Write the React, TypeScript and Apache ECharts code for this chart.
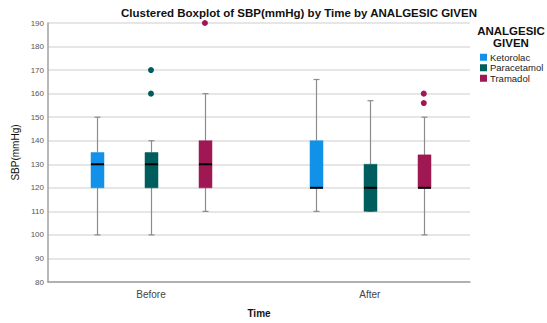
import React, { useEffect, useRef } from "react";
import * as echarts from "echarts";

const categories = ["Before", "After"];
const groups = ["Ketorolac", "Paracetamol", "Tramadol"];
const colors = ["#1192e8", "#005d5d", "#9f1853"];
// [min, q1, median, q3, max] per time category
const ketorolacBox = [
  [100, 120, 130, 135, 150],
  [110, 120, 120, 140, 166],
];
const paracetamolBox = [
  [100, 120, 130, 135, 140],
  [110, 110, 120, 130, 157],
];
const tramadolBox = [
  [110, 120, 130, 140, 160],
  [100, 120, 120, 134, 150],
];
// outliers: [time index, value]
const ketorolacOut: number[][] = [];
const paracetamolOut = [
  [0, 170],
  [0, 160],
];
const tramadolOut = [
  [0, 190],
  [1, 160],
  [1, 156],
];
const yMin = 80;
const yMax = 190;
const yStep = 10;

const boxes = [ketorolacBox, paracetamolBox, tramadolBox];
const outs = [ketorolacOut, paracetamolOut, tramadolOut];

// layout of the horizontal (hidden numeric) axis
const CAT_POS = [8, 25]; // cluster centres in x-axis units
const X_MAX = 32.78;
const GROUP_OFFSET = 4.19; // spacing between boxes in axis units
const FONT = "'Liberation Sans', Arial, sans-serif";

export default function App() {
  const ref = useRef<HTMLDivElement>(null);
  useEffect(() => {
    if (!ref.current) return;
    const chart = echarts.init(ref.current, undefined, { renderer: "svg" });
    const series: any[] = [];
    groups.forEach((g, s) => {
      const off = (s - 1) * GROUP_OFFSET;
      series.push({
        name: g,
        type: "custom",
        itemStyle: { color: colors[s] },
        encode: { x: 0, y: [1, 2, 3, 4, 5] },
        data: boxes[s].map((b, i) => [CAT_POS[i] + off, ...b]),
        renderItem: (params: any, api: any) => {
          const x = api.value(0);
          const lo = api.coord([x, api.value(1)]);
          const q1 = api.coord([x, api.value(2)]);
          const md = api.coord([x, api.value(3)]);
          const q3 = api.coord([x, api.value(4)]);
          const hi = api.coord([x, api.value(5)]);
          const cx = Math.round(lo[0]) + 0.5;
          const hw = 6.5;
          const cap = 3;
          const wStyle = { stroke: "#8c8c8c", lineWidth: 1.2 };
          return {
            type: "group",
            children: [
              { type: "line", shape: { x1: cx, y1: hi[1], x2: cx, y2: q3[1] }, style: wStyle },
              { type: "line", shape: { x1: cx, y1: q1[1], x2: cx, y2: lo[1] }, style: wStyle },
              { type: "line", shape: { x1: cx - cap, y1: hi[1], x2: cx + cap, y2: hi[1] }, style: wStyle },
              { type: "line", shape: { x1: cx - cap, y1: lo[1], x2: cx + cap, y2: lo[1] }, style: wStyle },
              {
                type: "rect",
                shape: { x: cx - hw, y: q3[1], width: hw * 2, height: q1[1] - q3[1] },
                style: { fill: colors[s], stroke: colors[s], lineWidth: 0.5 },
              },
              {
                type: "line",
                shape: { x1: cx - hw, y1: md[1], x2: cx + hw, y2: md[1] },
                style: { stroke: "#000", lineWidth: 2 },
              },
            ],
          };
        },
        z: 3,
      });
      series.push({
        name: g + " outliers",
        type: "scatter",
        symbol: "circle",
        symbolSize: 6,
        itemStyle: { color: colors[s], opacity: 1 },
        data: outs[s].map((o) => [CAT_POS[o[0]] + off, o[1]]),
        z: 4,
      });
    });

    const option: any = {
      animation: false,
      backgroundColor: "#fff",
      color: colors,
      textStyle: { fontFamily: FONT },
      grid: { left: 48, right: 77, top: 23, bottom: 38 },
      legend: {
        data: groups.map((g) => ({ name: g, icon: "rect" })),
        orient: "vertical",
        left: 480,
        top: 52,
        padding: 0,
        itemWidth: 7,
        itemHeight: 7,
        itemGap: 0,
        textStyle: {
          fontSize: 9.5,
          color: "#222",
          fontFamily: FONT,
          padding: [0, 0, 0, -2],
          lineHeight: 10.5,
        },
        selectedMode: false,
      },
      graphic: [
        {
          type: "text",
          x: 299,
          y: 13,
          style: {
            text: "Clustered Boxplot of SBP(mmHg) by Time by ANALGESIC GIVEN",
            font: `bold 11.5px ${FONT}`,
            fill: "#111",
            align: "center",
            verticalAlign: "middle",
          },
        },
        {
          type: "text",
          x: 511,
          y: 31,
          style: {
            text: "ANALGESIC",
            font: `bold 11.5px ${FONT}`,
            fill: "#111",
            align: "center",
            verticalAlign: "middle",
          },
        },
        {
          type: "text",
          x: 511,
          y: 43,
          style: {
            text: "GIVEN",
            font: `bold 11.5px ${FONT}`,
            fill: "#111",
            align: "center",
            verticalAlign: "middle",
          },
        },
      ],
      xAxis: {
        type: "value",
        min: 0,
        max: X_MAX,
        interval: 1,
        axisLine: { show: true, onZero: false, lineStyle: { color: "#a0a0a0", width: 1.5 } },
        axisTick: { show: false },
        splitLine: { show: false },
        axisLabel: {
          fontSize: 10,
          color: "#444",
          margin: 7,
          hideOverlap: false,
          formatter: (v: number) => {
            const i = CAT_POS.findIndex((p) => Math.abs(p - v) < 1e-6);
            return i >= 0 ? categories[i] : "";
          },
        },
        name: "Time",
        nameLocation: "middle",
        nameGap: 26,
        nameTextStyle: { fontSize: 10, fontWeight: "bold", color: "#111" },
      },
      yAxis: {
        type: "value",
        min: yMin,
        max: yMax,
        interval: yStep,
        axisLine: { show: true, onZero: false, lineStyle: { color: "#a0a0a0", width: 1.5 } },
        axisTick: { show: false },
        splitLine: { show: true, lineStyle: { color: "#dedede", width: 1.5 } },
        axisLabel: { fontSize: 8, color: "#555", margin: 4 },
        name: "SBP(mmHg)",
        nameLocation: "middle",
        nameRotate: 90,
        nameGap: 28,
        nameMoveOverlap: false,
        nameTextStyle: { fontSize: 10, color: "#111" },
      },
      series,
    };
    chart.setOption(option);
    return () => chart.dispose();
  }, []);
  return (
    <div
      ref={ref}
      style={{ position: "fixed", left: 0, top: 0, width: 547, height: 323, background: "#fff" }}
    />
  );
}
